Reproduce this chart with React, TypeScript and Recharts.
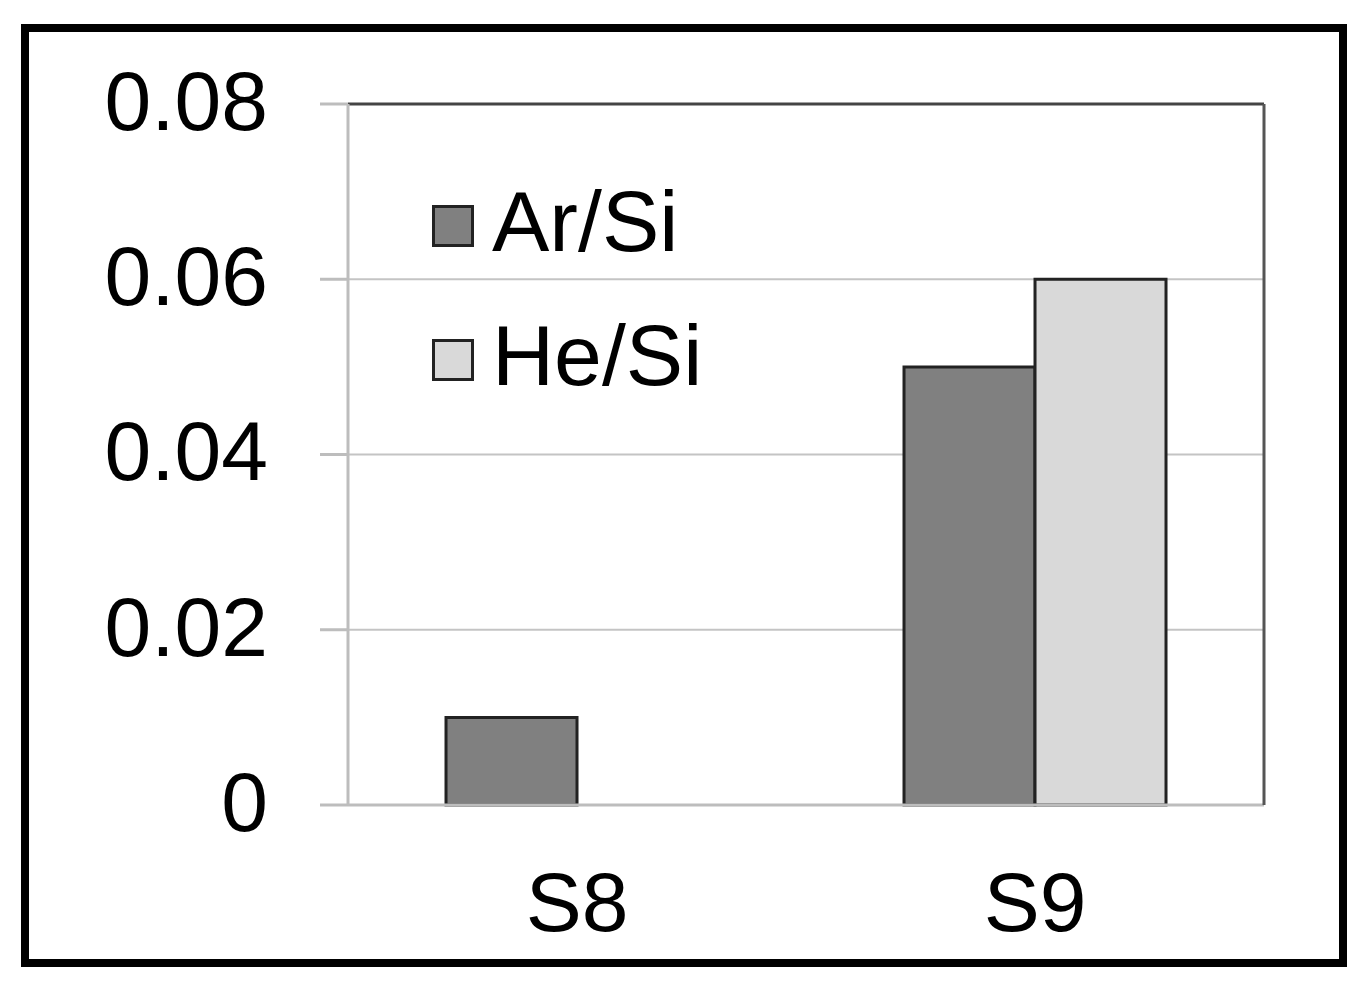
import React from "react";
import {
  BarChart,
  Bar,
  XAxis,
  YAxis,
  CartesianGrid,
  ReferenceLine,
} from "recharts";

const categories = ["S8", "S9"];
const arSi = [0.01, 0.05];
const heSi = [0, 0.06];
const yTicks = [0, 0.02, 0.04, 0.06, 0.08];
const seriesNames = ["Ar/Si", "He/Si"];
const seriesColors = ["#808080", "#d9d9d9"];

const data = categories.map((c, i) => ({ name: c, ar: arSi[i], he: heSi[i] }));

const FONT = "'Liberation Sans', Arial, sans-serif";

// legend drawn as html so it doesn't eat into the chart margins
function LegendBox() {
  return (
    <div
      style={{
        position: "absolute",
        left: 432,
        top: 159,
        fontFamily: FONT,
      }}
    >
      {seriesNames.map((n, i) => (
        <div
          key={n}
          style={{ display: "flex", alignItems: "center", height: 134 }}
        >
          <div
            style={{
              width: 42,
              height: 42,
              boxSizing: "border-box",
              background: seriesColors[i],
              border: "3px solid #222",
              marginRight: 18,
            }}
          />
          <span
            style={{
              fontSize: 86,
              color: "#000",
              lineHeight: 1,
              position: "relative",
              top: -5,
            }}
          >
            {n}
          </span>
        </div>
      ))}
    </div>
  );
}

export default function App() {
  return (
    <div
      style={{
        position: "absolute",
        left: 0,
        top: 0,
        width: 1363,
        height: 989,
        background: "#fff",
      }}
    >
      <BarChart
        width={1363}
        height={989}
        data={data}
        margin={{ top: 104, right: 98, bottom: 24, left: 0 }}
        barCategoryGap="21.4%"
        barGap={0}
      >
        <CartesianGrid vertical={false} stroke="#c4c4c4" strokeWidth={2} />
        <XAxis
          dataKey="name"
          height={160}
          tickLine={false}
          tickSize={0}
          tickMargin={66}
          axisLine={{ stroke: "#bdbdbd", strokeWidth: 3 }}
          tick={{ fill: "#000", fontSize: 84, fontFamily: FONT }}
        />
        <YAxis
          domain={[0, 0.08]}
          ticks={yTicks}
          width={348}
          tickSize={28}
          tickMargin={52}
          tickLine={{ stroke: "#bdbdbd", strokeWidth: 3 }}
          axisLine={{ stroke: "#bdbdbd", strokeWidth: 3 }}
          tickFormatter={(v: number) => (v === 0 ? "0" : v.toFixed(2))}
          tick={{ fill: "#000", fontSize: 84, fontFamily: FONT, dy: -4 }}
        />
        <YAxis
          yAxisId="r"
          orientation="right"
          width={1}
          domain={[0, 0.08]}
          tick={false}
          tickLine={false}
          axisLine={{ stroke: "#555", strokeWidth: 3 }}
        />
        <ReferenceLine y={0.08} stroke="#444" strokeWidth={3} />
        <Bar
          dataKey="ar"
          name={seriesNames[0]}
          fill={seriesColors[0]}
          stroke="#222"
          strokeWidth={3}
          isAnimationActive={false}
        />
        <Bar
          dataKey="he"
          name={seriesNames[1]}
          fill={seriesColors[1]}
          stroke="#222"
          strokeWidth={3}
          isAnimationActive={false}
        />
      </BarChart>
      <LegendBox />
      <div
        style={{
          position: "absolute",
          left: 21,
          top: 24,
          width: 1326,
          height: 943,
          boxSizing: "border-box",
          border: "8px solid #000",
          pointerEvents: "none",
        }}
      />
    </div>
  );
}
